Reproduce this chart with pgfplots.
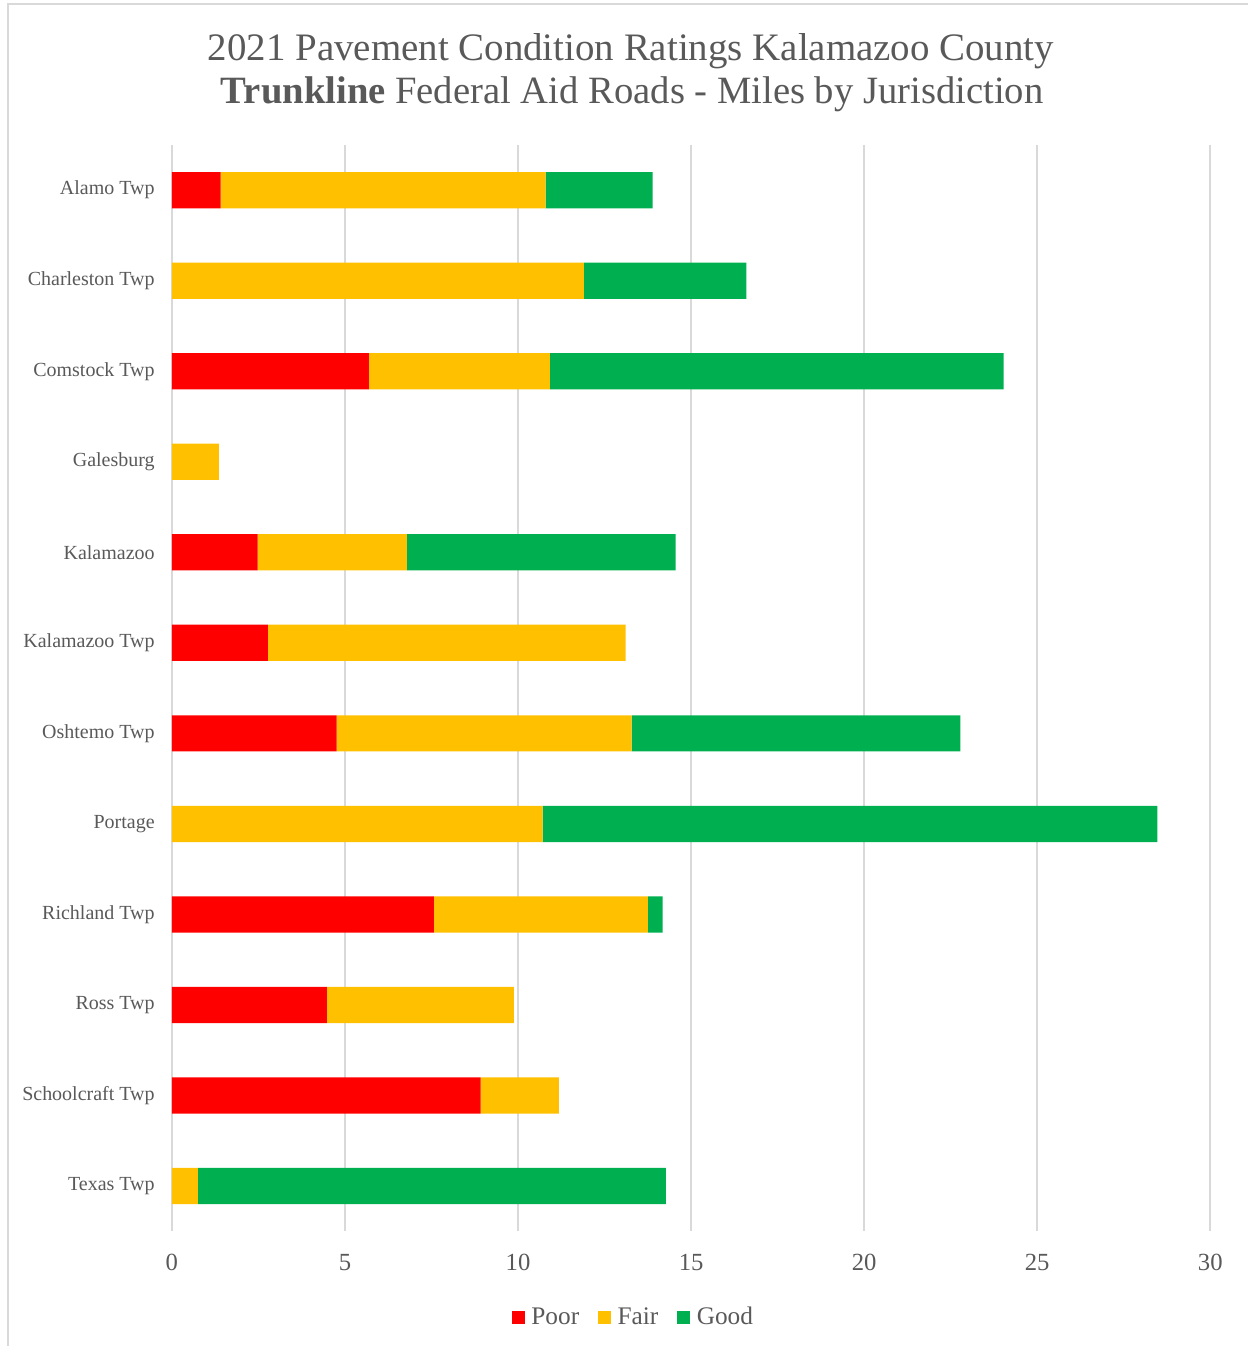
\documentclass[border=0pt]{standalone}
\usepackage{fontspec}
\setmainfont{Liberation Serif}
\usepackage{pgfplots}
\pgfplotsset{compat=1.18}
\usepackage{pgfplotstable}
\definecolor{poorRed}{HTML}{FF0000}
\definecolor{fairAmber}{HTML}{FFC000}
\definecolor{goodGreen}{HTML}{00B050}
\definecolor{txtGray}{HTML}{595959}
\definecolor{gridGray}{HTML}{D9D9D9}

% miles by jurisdiction
\pgfplotstableread{
idx poor fair good
0  1.41  9.39  3.09
1  0     11.90 4.70
2  5.69  5.23  13.11
3  0     1.36  0
4  2.48  4.31  7.76
5  2.77  10.34 0
6  4.76  8.52  9.50
7  0     10.71 17.76
8  7.57  6.18  0.43
9  4.48  5.40  0
10 8.92  2.26  0
11 0     0.75  13.52
}\roads

\begin{document}
\begin{tikzpicture}
% page and frame
\path (-129pt,-86.25pt) rectangle (807.75pt,924pt);
\draw[gridGray, line width=1.2pt] (-123pt,-86.25pt) -- (-123pt,921pt) -- (807.75pt,921pt);
\begin{axis}[
  at={(0,0)}, anchor=south west,
  scale only axis,
  width=779.25pt, height=815.25pt,
  xbar stacked,
  bar width=0.4,
  xmin=0, xmax=30,
  ymin=-0.5, ymax=11.5,
  y dir=reverse,
  xtick={0,5,...,30},
  ytick={0,...,11},
  yticklabels={Alamo Twp, Charleston Twp, Comstock Twp, Galesburg, Kalamazoo,
    Kalamazoo Twp, Oshtemo Twp, Portage, Richland Twp, Ross Twp,
    Schoolcraft Twp, Texas Twp},
  xmajorgrids,
  grid style={gridGray, line width=1.2pt},
  axis line style={draw=none},
  major tick length=0pt,
  /pgf/number format/assume math mode=true,
  xticklabel style={font=\fontsize{18.5}{20}\selectfont, text=txtGray, anchor=base, yshift=-29.8pt},
  yticklabel style={font=\fontsize{15}{17}\selectfont, text=txtGray, anchor=east, inner sep=0pt, xshift=-12.75pt},
  legend columns=3,
  legend style={at={(0.4447,-0.0790)}, anchor=center, draw=none, fill=none,
    font=\fontsize{19}{21}\selectfont, text=txtGray,
    /tikz/every odd column/.append style={column sep=3pt},
    /tikz/every even column/.append style={column sep=12pt}},
  legend image code/.code={\fill[#1] (0pt,-4.9pt) rectangle (9.8pt,4.9pt);},
]
\addplot[fill=poorRed, draw=none] table[x=poor, y=idx] {\roads};
\addlegendentry{Poor}
\addplot[fill=fairAmber, draw=none] table[x=fair, y=idx] {\roads};
\addlegendentry{Fair}
\addplot[fill=goodGreen, draw=none] table[x=good, y=idx] {\roads};
\addlegendentry{Good}
\end{axis}
\node[text=txtGray, font=\fontsize{29.2}{31}\selectfont] at (344.5pt,885.75pt)
  {2021 Pavement Condition Ratings Kalamazoo County};
\node[text=txtGray, font=\fontsize{29}{31}\selectfont] at (345.5pt,853.5pt)
  {\textbf{Trunkline} Federal Aid Roads - Miles by Jurisdiction};
\end{tikzpicture}
\end{document}
